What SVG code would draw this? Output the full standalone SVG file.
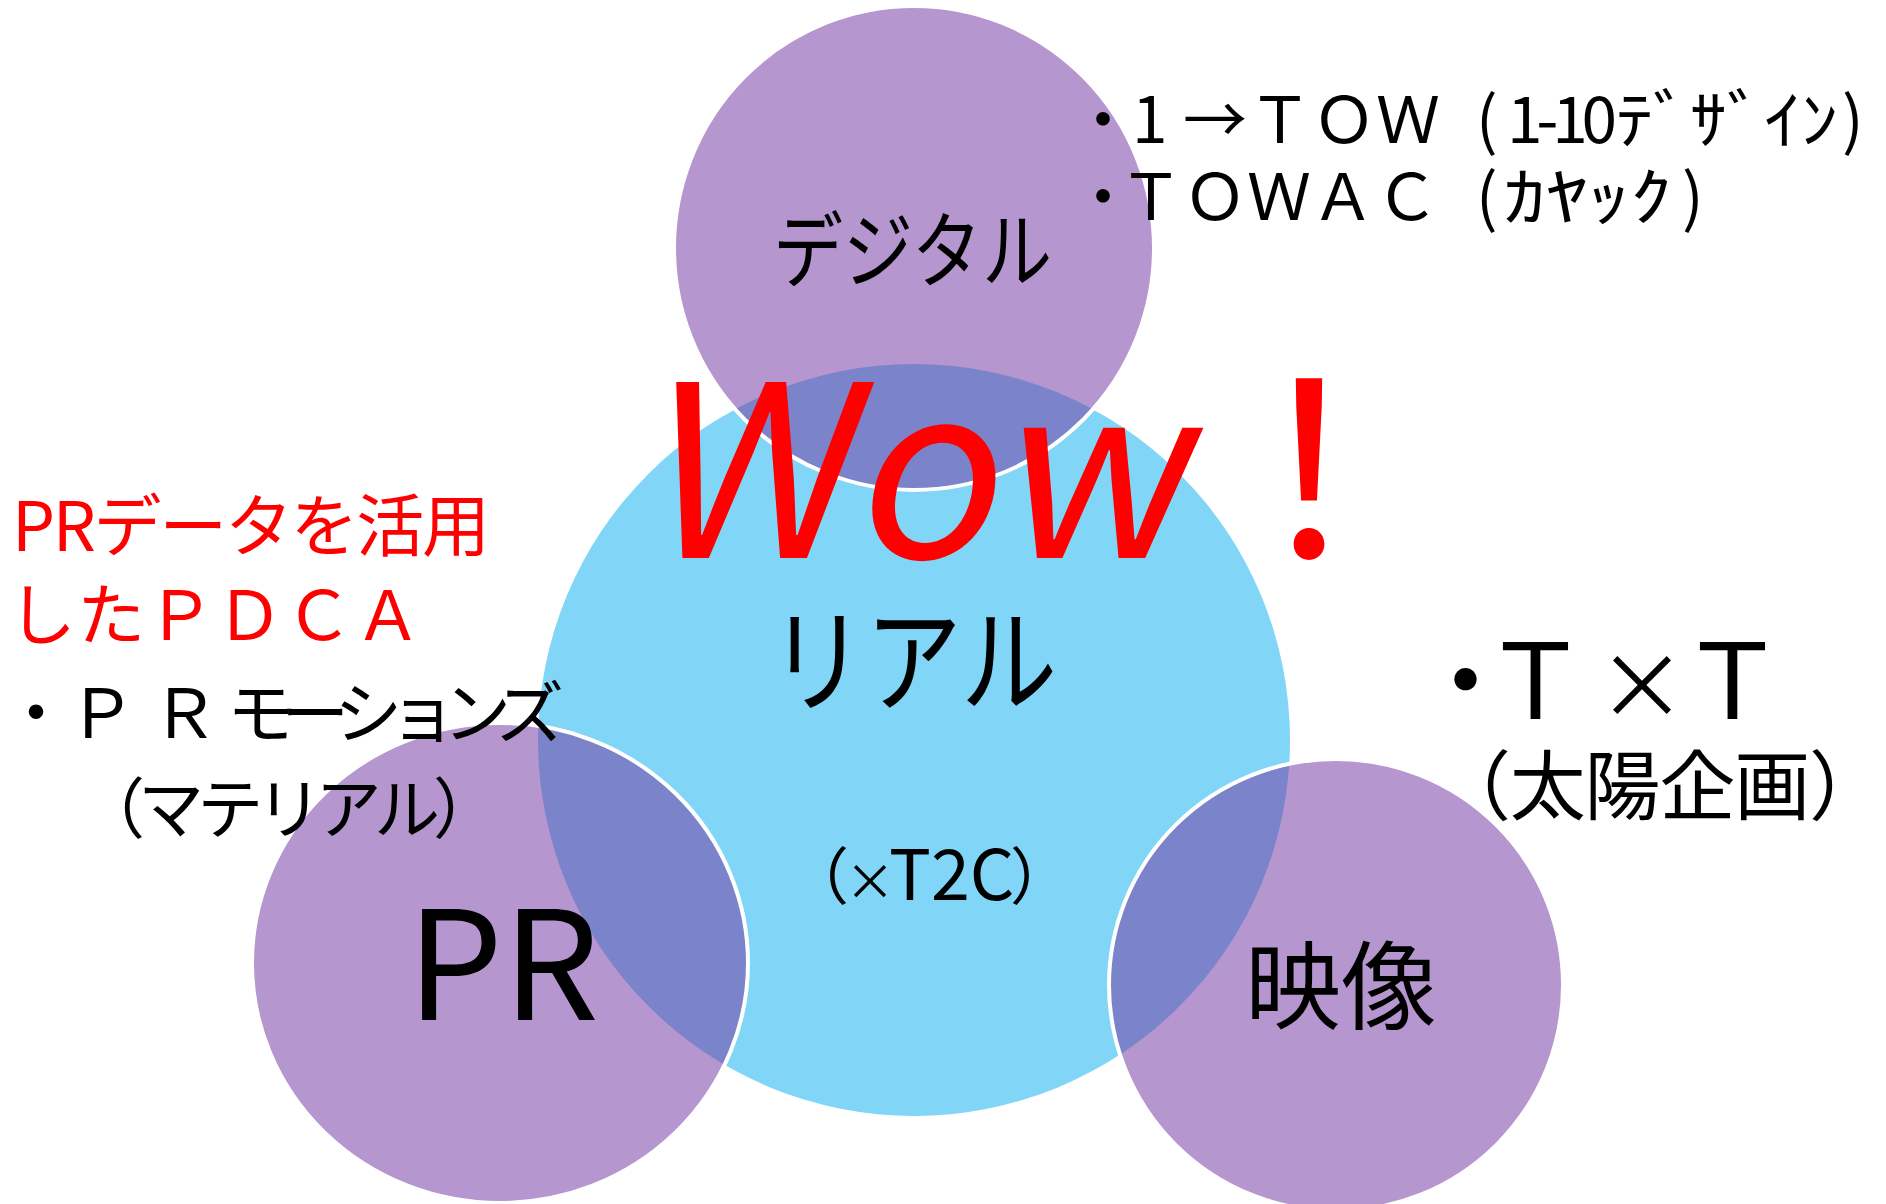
<svg xmlns="http://www.w3.org/2000/svg" width="1886" height="1204" viewBox="0 0 1886 1204">
<style>
.real{fill:#81D6F7}
.purple{fill:#763DA4;fill-opacity:0.54;stroke:#FFFFFF;stroke-width:4}
text{font-family:"Noto Sans CJK JP","Noto Sans",sans-serif;fill:#000000}
.red{fill:#FF0000}
</style>
<rect width="1886" height="1204" fill="#FFFFFF"/>
<g id="node-real">
<circle class="real" cx="914" cy="740" r="376"/>
<text x="769" y="703" font-size="115" textLength="288" lengthAdjust="spacingAndGlyphs">リアル</text>
<text y="900"><tspan x="787" font-size="62">（</tspan><tspan x="845" font-size="50">×</tspan><tspan x="889" font-size="70">T2C</tspan><tspan x="1010" font-size="62">）</tspan></text>
</g>
<g id="node-digital">
<ellipse class="purple" cx="914" cy="248" rx="240" ry="242"/>
<text x="773" y="281" font-size="83" textLength="279" lengthAdjust="spacingAndGlyphs">デジタル</text>
</g>
<g id="node-pr">
<ellipse class="purple" cx="500" cy="963" rx="248" ry="240"/>
<text x="503" y="1020" font-size="152" text-anchor="middle">PR</text>
</g>
<g id="node-eizo">
<ellipse class="purple" cx="1336" cy="985" rx="227" ry="226"/>
<text x="1341" y="1021" font-size="96" text-anchor="middle">映像</text>
</g>
<g id="connectors"/>
<g id="note-digital" font-size="64">
<text y="143"><tspan x="1071">・</tspan><tspan x="1132">1</tspan><tspan x="1183">→</tspan><tspan x="1248">ＴＯＷ</tspan><tspan x="1476">(</tspan><tspan x="1507" textLength="110">1-10</tspan><tspan x="1616" textLength="222" lengthAdjust="spacingAndGlyphs">ﾃﾞｻﾞｲﾝ</tspan><tspan x="1842">)</tspan></text>
<text y="220"><tspan x="1071">・</tspan><tspan x="1119">ＴＯＷＡＣ</tspan><tspan x="1476">(</tspan><tspan x="1504" textLength="168" lengthAdjust="spacingAndGlyphs">ｶﾔｯｸ</tspan><tspan x="1682">)</tspan></text>
</g>
<g id="note-pr">
<text class="red" x="12" y="551" font-size="68" textLength="478">PRデータを活用</text>
<text class="red" x="8" y="640" font-size="68" textLength="414">したＰＤＣＡ</text>
<text y="738" font-size="68"><tspan x="2">・</tspan><tspan x="68">Ｐ</tspan><tspan x="151">Ｒ</tspan><tspan x="227" textLength="337">モーションズ</tspan></text>
<text x="79" y="833" font-size="66" textLength="420">（マテリアル）</text>
</g>
<g id="note-eizo">
<text y="719" font-size="105"><tspan x="1413">・</tspan><tspan x="1483">Ｔ</tspan><tspan x="1597" font-size="90">×</tspan><tspan x="1680">Ｔ</tspan></text>
<text x="1435" y="814" font-size="76" textLength="450">（太陽企画）</text>
</g>
<g id="title">
<text class="red" transform="translate(639,558) skewX(-10)" x="0" y="0" font-size="240">Wow</text>
<text class="red" x="1309" y="558" font-size="240" text-anchor="middle">！</text>
</g>
</svg>
